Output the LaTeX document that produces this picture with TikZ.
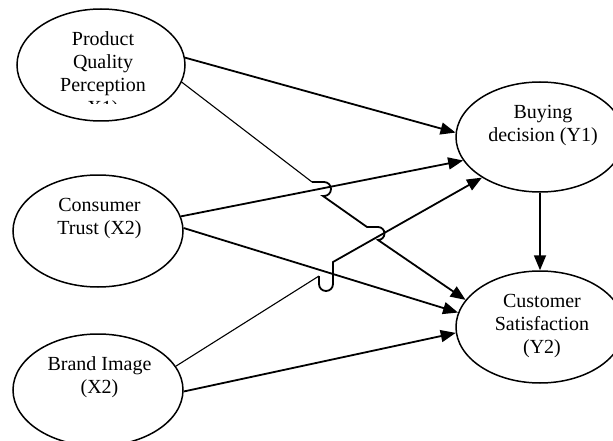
\documentclass[tikz,border=0pt]{standalone}
\usepackage{fontspec}
\setmainfont{Liberation Serif}
\usetikzlibrary{shapes.geometric,arrows.meta}
\begin{document}
\begin{tikzpicture}[x=1pt,y=-1pt,
  ell/.style={draw, ellipse, line width=1.5pt, inner sep=0pt},
  lbl/.style={anchor=north, inner sep=0pt, align=center, font=\fontsize{20}{23}\selectfont},
  arr/.style={line width=1.8pt, -{Triangle[length=15pt,width=12pt]}},
  thinln/.style={line width=1.1pt}]
\useasboundingbox (0,0) rectangle (613,441);
\clip (0,0) rectangle (613,441);
% ellipses
\node[ell, minimum width=168pt, minimum height=112pt] (pqp) at (101,65) {};
\node[ell, minimum width=170pt, minimum height=112pt] (ct) at (98,231) {};
\node[ell, minimum width=170pt, minimum height=112pt] (bi) at (98,390) {};
\node[ell, minimum width=168pt, minimum height=110pt] (bd) at (540,137) {};
\node[ell, minimum width=168pt, minimum height=112pt] (cs) at (540,327) {};
% texts
\begin{scope}
  \clip (0,0) rectangle (613,104);
  \node[lbl] (pqpt) at (103,29.4) {\strut Product\\Quality\\Perception\\X1)};
\end{scope}
\node[lbl] (ctt) at (99.5,195.4) {\strut Consumer\\Trust (X2)};
\node[lbl] (bit) at (99.5,354.4) {\strut Brand Image\\(X2)};
\node[lbl] (bdt) at (543,102.4) {\strut Buying\\decision (Y1)};
\node[lbl] (cst) at (542,291.4) {\strut Customer\\Satisfaction\\(Y2)};
% hop coordinates
\coordinate (h1a) at (312,182);
\coordinate (h1b) at (323,196);
\coordinate (h2a) at (367,227);
\coordinate (h3a) at (319,276);
\coordinate (h3b) at (333,262);
% connectors
\draw[arr] (pqp.5) -- (bd.177);
\draw[thinln] (pqp.-12) -- (h1a);
\draw[arr] (h1a) -- ++(12,0) arc[start angle=-90,end angle=90,radius=7] -- (h1b)
  -- (h2a) -- ++(11,0) arc[start angle=-90,end angle=90,radius=6.5] -- (cs.160);
\draw[arr] (ct.10) -- (bd.197);
\draw[arr] (ct.2) -- (cs.170);
\draw[thinln] (bi.17) -- (h3a);
\draw[arr] (h3a) -- ++(0,8) arc[start angle=180,end angle=0,radius=7] -- (h3b) -- (bd.215);
\draw[arr] (bi.-1) -- (cs.184);
\draw[arr] (bd.south) -- (cs.north);
\end{tikzpicture}
\end{document}
